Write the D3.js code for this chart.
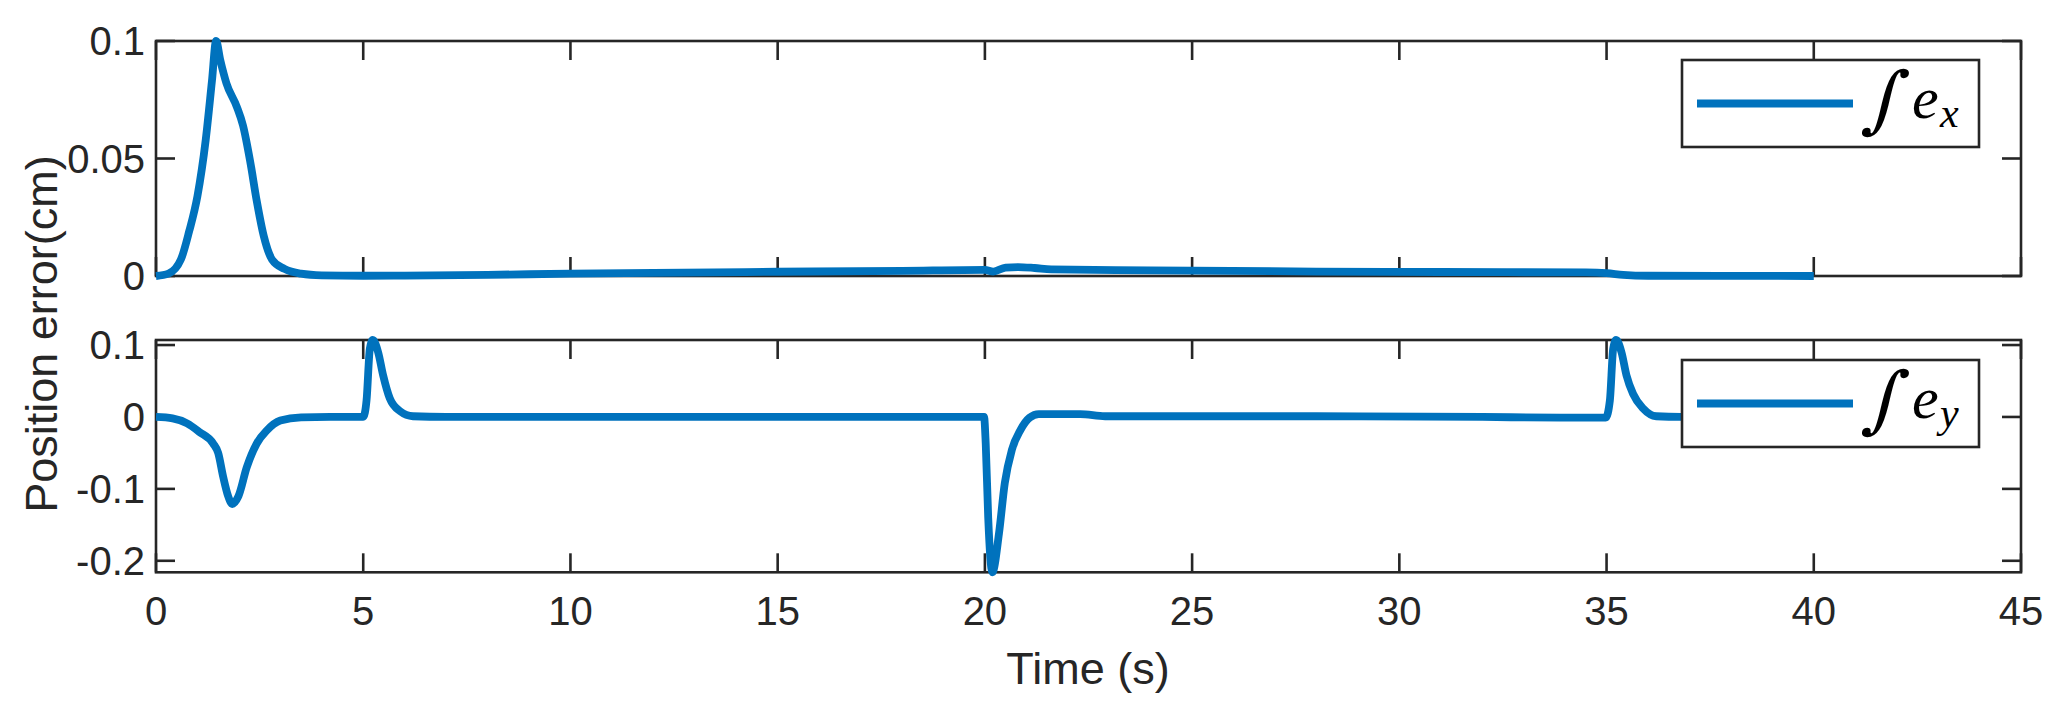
<!DOCTYPE html>
<html>
<head>
<meta charset="utf-8">
<script src="https://cdn.jsdelivr.net/npm/d3@7"></script>
<style>
  body { margin: 0; background: #fff; }
  svg text { font-family: "Liberation Sans", Arial, Helvetica, sans-serif; fill: #262626; }
</style>
</head>
<body>
<svg id="chart"></svg>
<script>
// time axis ticks
const xTicks = [0, 5, 10, 15, 20, 25, 30, 35, 40, 45];

// integral of e_x (top panel)
const timeX = [0, 0.3, 0.6, 0.8, 1.0, 1.2, 1.35, 1.45, 1.55, 1.7, 1.95, 2.1, 2.27, 2.43, 2.6, 2.8, 3.1, 3.5, 4, 5, 6, 8, 10, 12, 15, 18, 20, 20.2, 20.5, 20.8, 21.2, 21.6, 24, 28, 31, 34.5, 35, 35.4, 36, 40];
const errX = [0, 0.001, 0.007, 0.019, 0.034, 0.058, 0.083, 0.1, 0.092, 0.082, 0.072, 0.064, 0.049, 0.032, 0.017, 0.007, 0.003, 0.001, 0.0003, 0.0001, 0.0002, 0.0005, 0.001, 0.0013, 0.0018, 0.0022, 0.0026, 0.0019, 0.0036, 0.0038, 0.0034, 0.0028, 0.0024, 0.0019, 0.0017, 0.0015, 0.0012, 0.0005, 0.0001, 0];
const yTicksTop = [0, 0.05, 0.1];
const yLabelsTop = ["0", "0.05", "0.1"];

// integral of e_y (bottom panel)
const timeY = [0, 0.4, 0.75, 1.05, 1.38, 1.5, 1.62, 1.74, 1.84, 1.99, 2.19, 2.43, 2.67, 3.0, 3.5, 4.2, 5.0, 5.08, 5.16, 5.23, 5.36, 5.48, 5.64, 5.89, 6.2, 7, 10, 15, 19.98, 20.02, 20.08, 20.18, 20.34, 20.48, 20.65, 20.86, 21.08, 21.3, 22.3, 22.9, 28, 32, 34, 34.98, 35.08, 35.16, 35.23, 35.36, 35.48, 35.64, 35.88, 36.2, 36.8, 40];
const errY = [0, -0.002, -0.009, -0.021, -0.037, -0.05, -0.083, -0.11, -0.121, -0.11, -0.07, -0.037, -0.019, -0.005, -0.0005, 0, 0, 0.023, 0.095, 0.107, 0.09, 0.058, 0.026, 0.008, 0.001, 0, 0, 0, 0, -0.037, -0.14, -0.216, -0.162, -0.092, -0.046, -0.018, -0.001, 0.004, 0.004, 0.001, 0.001, 0, -0.001, -0.001, 0.023, 0.095, 0.107, 0.09, 0.058, 0.032, 0.012, 0.001, 0, 0];
const yTicksBottom = [-0.2, -0.1, 0, 0.1];
const yLabelsBottom = ["-0.2", "-0.1", "0", "0.1"];

const width = 2064, height = 715;
const axisColor = "#262626", lineColor = "#0072BD";
const tickLen = 19;

const svg = d3.select("#chart").attr("width", width).attr("height", height);
svg.append("rect").attr("width", width).attr("height", height).attr("fill", "#fff");

const x = d3.scaleLinear().domain([0, 45]).range([156, 2021]);

function drawPanel(top, bottom, yDomain, yTicks, yLabels, times, values, showXLabels) {
  const y = d3.scaleLinear().domain(yDomain).range([bottom, top]);
  const g = svg.append("g");

  // box
  g.append("rect")
    .attr("x", x(0)).attr("y", top)
    .attr("width", x(45) - x(0)).attr("height", bottom - top)
    .attr("fill", "none").attr("stroke", axisColor).attr("stroke-width", 2.6);

  // x ticks, bottom and top, inward
  xTicks.forEach(t => {
    g.append("line").attr("x1", x(t)).attr("x2", x(t)).attr("y1", bottom).attr("y2", bottom - tickLen)
      .attr("stroke", axisColor).attr("stroke-width", 2.6);
    g.append("line").attr("x1", x(t)).attr("x2", x(t)).attr("y1", top).attr("y2", top + tickLen)
      .attr("stroke", axisColor).attr("stroke-width", 2.6);
  });

  // y ticks, left and right
  yTicks.forEach((v, i) => {
    g.append("line").attr("x1", x(0)).attr("x2", x(0) + tickLen).attr("y1", y(v)).attr("y2", y(v))
      .attr("stroke", axisColor).attr("stroke-width", 2.6);
    g.append("line").attr("x1", x(45)).attr("x2", x(45) - tickLen).attr("y1", y(v)).attr("y2", y(v))
      .attr("stroke", axisColor).attr("stroke-width", 2.6);
    g.append("text")
      .attr("x", 145).attr("y", y(v)).attr("dy", "0.36em")
      .attr("text-anchor", "end").attr("font-size", 40)
      .text(yLabels[i]);
  });

  if (showXLabels) {
    xTicks.forEach(t => {
      g.append("text")
        .attr("x", x(t)).attr("y", 625)
        .attr("text-anchor", "middle").attr("font-size", 40)
        .text(t);
    });
  }

  const line = d3.line()
    .x((d, i) => x(times[i]))
    .y(d => y(d))
    .curve(d3.curveMonotoneX);

  g.append("path")
    .datum(values)
    .attr("d", line)
    .attr("fill", "none")
    .attr("stroke", lineColor)
    .attr("stroke-width", 7.8)
    .attr("stroke-linejoin", "round");

  return g;
}

function drawLegend(top, sub) {
  const g = svg.append("g");
  g.append("rect")
    .attr("x", 1682).attr("y", top).attr("width", 297).attr("height", 87)
    .attr("fill", "#fff").attr("stroke", axisColor).attr("stroke-width", 2.6);
  g.append("line")
    .attr("x1", 1697).attr("x2", 1853).attr("y1", top + 43.5).attr("y2", top + 43.5)
    .attr("stroke", lineColor).attr("stroke-width", 7.8);
  // integral sign, slanted like the TeX one
  g.append("text")
    .attr("transform", `translate(1881,${top + 64}) skewX(-12)`)
    .style("font-family", "'DejaVu Serif', serif")
    .attr("font-size", 73).style("fill", "#000")
    .attr("text-anchor", "middle")
    .text("\u222B");
  g.append("text")
    .attr("x", 1912).attr("y", top + 58)
    .style("font-family", "'Liberation Serif', 'Times New Roman', serif").style("font-style", "italic")
    .attr("font-size", 60).style("fill", "#000")
    .text("e");
  g.append("text")
    .attr("x", 1940).attr("y", top + 67)
    .style("font-family", "'Liberation Serif', 'Times New Roman', serif").style("font-style", "italic")
    .attr("font-size", 42).style("fill", "#000")
    .text(sub);
}

drawPanel(41, 276, [0, 0.1], yTicksTop, yLabelsTop, timeX, errX, false);
drawPanel(340, 572.3, [-0.216, 0.107], yTicksBottom, yLabelsBottom, timeY, errY, true);

drawLegend(60, "x");
drawLegend(360, "y");

// axis labels
svg.append("text")
  .attr("x", 1088).attr("y", 684)
  .attr("text-anchor", "middle").attr("font-size", 45)
  .text("Time (s)");

svg.append("text")
  .attr("transform", "translate(57,334) rotate(-90)")
  .attr("text-anchor", "middle").attr("font-size", 45)
  .text("Position error(cm)");
</script>
</body>
</html>
